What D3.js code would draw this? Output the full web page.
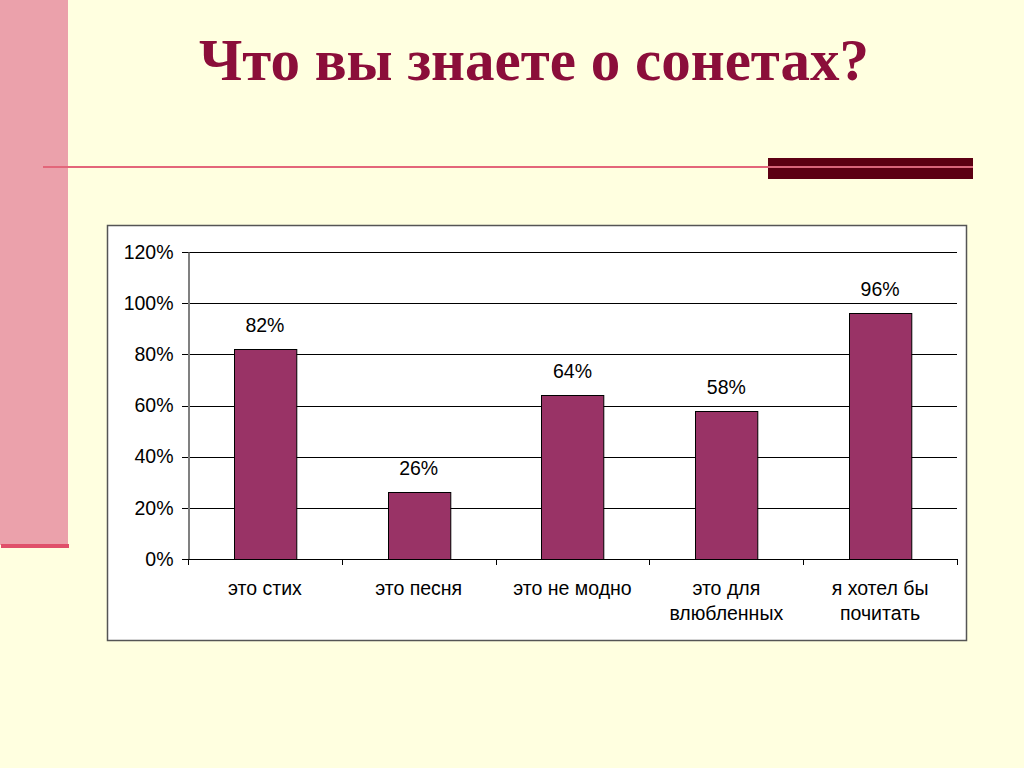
<!DOCTYPE html>
<html><head><meta charset="utf-8">
<script src="https://cdn.jsdelivr.net/npm/d3@7"></script>
<style>html,body{margin:0;padding:0;background:#FFFFE0;overflow:hidden}</style>
</head><body>
<svg id="c" width="1024" height="768"></svg>
<script>
const categories = [["это стих"], ["это песня"], ["это не модно"], ["это для", "влюбленных"], ["я хотел бы", "почитать"]];
const values = [0.82, 0.26, 0.64, 0.58, 0.96];
const yTicks = [0, 0.2, 0.4, 0.6, 0.8, 1.0, 1.2];
const title = "Что вы знаете о сонетах?";

(function(){
const svg = d3.select("#c");
svg.append("rect").attr("width",1024).attr("height",768).attr("fill","#FFFFE0");
// decorative slide elements
svg.append("rect").attr("x",0).attr("y",0).attr("width",68).attr("height",545).attr("fill","#EBA1AB");
svg.append("rect").attr("x",1).attr("y",544).attr("width",68).attr("height",4).attr("fill","#E0506A");
svg.append("rect").attr("x",43).attr("y",166).attr("width",730).attr("height",2).attr("fill","#E3667A");
svg.append("rect").attr("x",768).attr("y",158).attr("width",205).attr("height",21).attr("fill","#5C0012");
svg.append("rect").attr("x",768).attr("y",166).attr("width",205).attr("height",2).attr("fill","#D9667A");

svg.append("text").attr("x",534).attr("y",80).attr("text-anchor","middle")
  .attr("font-family","'Liberation Serif','Times New Roman',serif").attr("font-weight","bold")
  .attr("font-size",59).attr("fill","#8B0E3A").text(title);

// chart box
svg.append("rect").attr("x",107.5).attr("y",225.5).attr("width",859).attr("height",415)
  .attr("fill","#FFFFFF").attr("stroke","#555555").attr("stroke-width",1.5);

const pL = 188, pR = 957, pT = 252, pB = 559;
const fs = 19.5;
const x = d3.scaleBand().domain(d3.range(categories.length)).range([pL, pR]).padding(0);
const y = d3.scaleLinear().domain([0, 1.2]).range([pB, pT]);
const font = "'Liberation Sans',Arial,sans-serif";

// gridlines
svg.append("g").selectAll("line").data(yTicks).join("line")
  .attr("x1", pL - 6).attr("x2", pR)
  .attr("y1", d => Math.round(y(d)) + 0.5).attr("y2", d => Math.round(y(d)) + 0.5)
  .attr("stroke","#000").attr("stroke-width",1);

// y axis
const yAxis = d3.axisLeft(y).tickValues(yTicks).tickFormat(d => Math.round(d*100) + "%").tickSize(0).tickPadding(15);
const ya = svg.append("g").attr("transform",`translate(${pL+0.5},0)`).call(yAxis);
ya.select(".domain").attr("stroke","#808080").attr("stroke-width",2);
ya.selectAll("text").attr("font-family",font).attr("font-size",fs).attr("fill","#000");

// bars
const bw = x.bandwidth() * 0.405;
svg.append("g").selectAll("rect").data(values).join("rect")
  .attr("x", (d,i) => Math.round(x(i) + x.bandwidth()/2 - bw/2) + 0.5)
  .attr("width", bw)
  .attr("y", d => Math.round(y(d)) + 0.5)
  .attr("height", d => pB - Math.round(y(d)))
  .attr("fill","#993366").attr("stroke","#000").attr("stroke-width",1);

// value labels
svg.append("g").selectAll("text").data(values).join("text")
  .attr("x", (d,i) => x(i) + x.bandwidth()/2)
  .attr("y", d => y(d) - 17)
  .attr("text-anchor","middle").attr("font-family",font).attr("font-size",fs).attr("fill","#000")
  .text(d => Math.round(d*100) + "%");

// x axis line + ticks
svg.append("line").attr("x1",pL).attr("x2",pR).attr("y1",pB+0.5).attr("y2",pB+0.5).attr("stroke","#000");
svg.append("g").selectAll("line").data(d3.range(categories.length+1)).join("line")
  .attr("x1", i => Math.round(i < categories.length ? x(i) : pR) + 0.5)
  .attr("x2", i => Math.round(i < categories.length ? x(i) : pR) + 0.5)
  .attr("y1", pB).attr("y2", pB + 6).attr("stroke","#000");

// category labels
const cl = svg.append("g").selectAll("text").data(categories).join("text")
  .attr("text-anchor","middle").attr("font-family",font).attr("font-size",fs).attr("fill","#000");
cl.each(function(lines, i){
  const t = d3.select(this);
  lines.forEach((ln, k) => t.append("tspan").attr("x", x(i) + x.bandwidth()/2).attr("y", 595 + k*25).text(ln));
});
})();
</script>
</body></html>
